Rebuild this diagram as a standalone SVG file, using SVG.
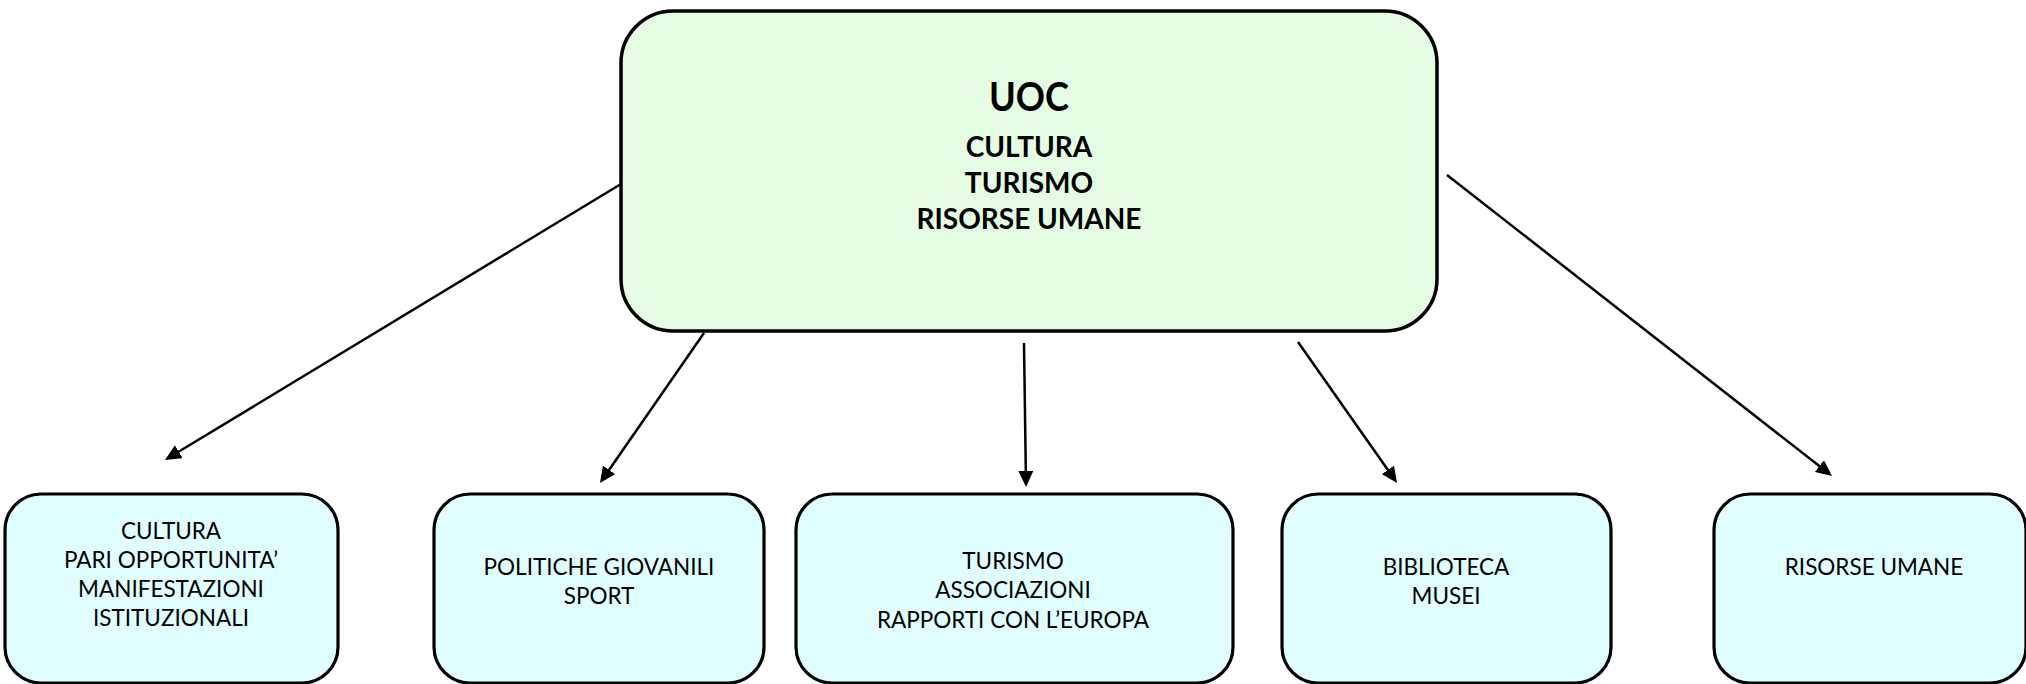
<svg xmlns="http://www.w3.org/2000/svg" width="2026" height="684" viewBox="0 0 2026 684">
<style>
.main{fill:#E3FCE3;stroke:#000;stroke-width:3.5}
.sub{fill:#E0FEFE;stroke:#000;stroke-width:3.2}
.t{font-family:Lato,"Liberation Sans",sans-serif;fill:#000;text-anchor:middle}
.tb{font-weight:bold;font-size:28px}
.ts{font-size:22.5px}
.conn line{stroke:#000;stroke-width:2.5}
</style>
<defs>
<marker id="ah" markerUnits="userSpaceOnUse" markerWidth="16" markerHeight="15" refX="6" refY="7.5" orient="auto">
<path d="M0,0 L16,7.5 L0,15 z" fill="#000"/>
</marker>
</defs>
<rect width="2026" height="684" fill="#fff"/>
<g id="connectors" class="conn">
<line x1="621" y1="184" x2="173.6" y2="454.8" marker-end="url(#ah)"/>
<line x1="704" y1="333" x2="605.7" y2="474.8" marker-end="url(#ah)"/>
<line x1="1024" y1="343" x2="1025.9" y2="477" marker-end="url(#ah)"/>
<line x1="1298" y1="342" x2="1391.3" y2="474.8" marker-end="url(#ah)"/>
<line x1="1447" y1="175" x2="1824.1" y2="469.8" marker-end="url(#ah)"/>
</g>
<g id="uoc">
<rect class="main" x="621" y="11" width="816" height="320" rx="52"/>
<text class="t" x="1029" y="111" font-weight="bold" font-size="41" textLength="80" lengthAdjust="spacingAndGlyphs">UOC</text>
<text class="t tb" x="1029" y="157">CULTURA</text>
<text class="t tb" x="1029" y="193">TURISMO</text>
<text class="t tb" x="1029" y="229">RISORSE UMANE</text>
</g>
<g id="cultura">
<rect class="sub" x="5" y="494" width="333" height="189" rx="36"/>
<text class="t ts" x="171" y="539">CULTURA</text>
<text class="t ts" x="171" y="568">PARI OPPORTUNITA’</text>
<text class="t ts" x="171" y="597">MANIFESTAZIONI</text>
<text class="t ts" x="171" y="626">ISTITUZIONALI</text>
</g>
<g id="politiche">
<rect class="sub" x="434" y="494" width="330" height="189" rx="36"/>
<text class="t ts" x="599" y="575">POLITICHE GIOVANILI</text>
<text class="t ts" x="599" y="604">SPORT</text>
</g>
<g id="turismo">
<rect class="sub" x="796" y="494" width="437" height="189" rx="36"/>
<text class="t ts" x="1013" y="569">TURISMO</text>
<text class="t ts" x="1013" y="598">ASSOCIAZIONI</text>
<text class="t ts" x="1013" y="628">RAPPORTI CON L’EUROPA</text>
</g>
<g id="biblioteca">
<rect class="sub" x="1282" y="494" width="329" height="189" rx="36"/>
<text class="t ts" x="1446" y="575">BIBLIOTECA</text>
<text class="t ts" x="1446" y="604">MUSEI</text>
</g>
<g id="risorse">
<rect class="sub" x="1714" y="494" width="312" height="189" rx="36"/>
<text class="t ts" x="1874" y="575">RISORSE UMANE</text>
</g>
</svg>
